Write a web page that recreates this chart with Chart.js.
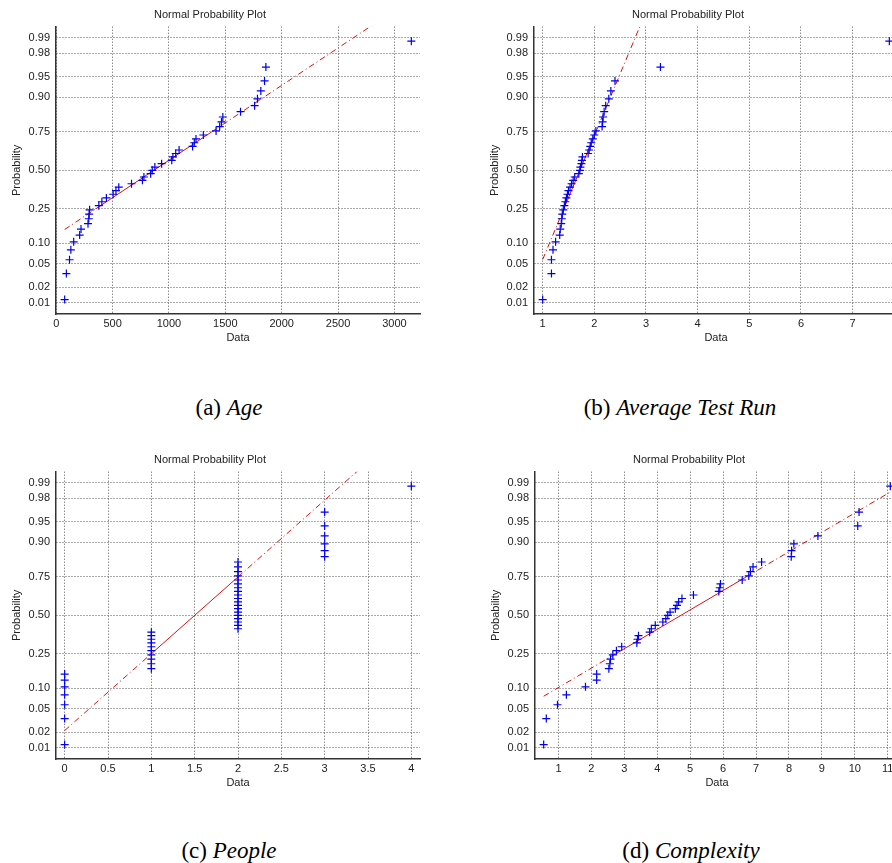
<!DOCTYPE html>
<html>
<head>
<meta charset="utf-8">
<title>Normal Probability Plots</title>
<script src="https://cdn.jsdelivr.net/npm/chart.js@4.4.0/dist/chart.umd.min.js"></script>
<style>
  html, body { margin: 0; padding: 0; background: #fff; overflow: hidden; }
  #page { position: relative; width: 892px; height: 863px; overflow: hidden; }
  .plot { position: absolute; width: 430px; height: 350px; }
  .caption {
    position: absolute; transform: translateX(-50%); white-space: nowrap;
    font-family: 'Liberation Serif', 'Times New Roman', serif; font-size: 23px; line-height: 1; color: #000;
  }
</style>
</head>
<body>
<div id="page">
  <div class="plot" style="left:0;top:0"><canvas id="chart-a"></canvas></div>
  <div class="plot" style="left:478px;top:0"><canvas id="chart-b"></canvas></div>
  <div class="plot" style="left:0;top:445px"><canvas id="chart-c"></canvas></div>
  <div class="plot" style="left:479px;top:445px"><canvas id="chart-d"></canvas></div>
  <div class="caption" style="left:229px;top:396px">(a) <i>Age</i></div>
  <div class="caption" style="left:680px;top:396px">(b) <i>Average Test Run</i></div>
  <div class="caption" style="left:229px;top:839px">(c) <i>People</i></div>
  <div class="caption" style="left:691px;top:839px">(d) <i>Complexity</i></div>
</div>
<script>
// Datos (valores ordenados de cada muestra)
const ageData = [75, 90, 118, 130, 155, 208, 220, 282, 289, 292, 296, 378, 405, 445, 505,
  530, 555, 668, 765, 778, 838, 852, 875, 935, 1025, 1035, 1060, 1090, 1210, 1225,
  1240, 1305, 1418, 1450, 1466, 1478, 1635, 1760, 1785, 1815, 1848, 1860, 3150];
const testRunData = [1.00, 1.17, 1.17, 1.20, 1.25, 1.33, 1.34, 1.36, 1.37, 1.38, 1.40, 1.42,
  1.44, 1.46, 1.48, 1.50, 1.53, 1.56, 1.59, 1.62, 1.70, 1.72, 1.73, 1.75, 1.76, 1.77,
  1.88, 1.90, 1.92, 1.94, 1.97, 2.00, 2.03, 2.15, 2.16, 2.17, 2.19, 2.22, 2.28, 2.32,
  2.40, 3.28, 7.71];
const peopleData = [0, 0, 0, 0, 0, 0, 0,
  1, 1, 1, 1, 1, 1, 1, 1, 1, 1,
  2, 2, 2, 2, 2, 2, 2, 2, 2, 2, 2, 2, 2, 2, 2, 2, 2, 2, 2,
  3, 3, 3, 3, 3, 3,
  4];
const complexityData = [0.55, 0.63, 0.97, 1.24, 1.82, 2.16, 2.16, 2.53, 2.56, 2.58, 2.65,
  2.76, 2.92, 3.38, 3.40, 3.43, 3.77, 3.82, 3.94, 4.17, 4.26, 4.32, 4.39, 4.55, 4.60,
  4.65, 4.75, 5.10, 5.87, 5.90, 5.92, 6.58, 6.78, 6.83, 6.91, 7.17, 8.07, 8.08, 8.15,
  8.88, 10.09, 10.13, 11.08];

// Cuartiles por donde pasa la recta de referencia (25% y 75%)
const ageQuartiles = [352, 1378];
const testRunQuartiles = [1.41, 2.03];
const peopleQuartiles = [1, 2];
const complexityQuartiles = [2.74, 6.70];

// Marcas de los ejes
const probTicks = [0.01, 0.02, 0.05, 0.10, 0.25, 0.50, 0.75, 0.90, 0.95, 0.98, 0.99];
const ageTicks = [0, 500, 1000, 1500, 2000, 2500, 3000];
const testRunTicks = [1, 2, 3, 4, 5, 6, 7];
const peopleTicks = [0, 0.5, 1, 1.5, 2, 2.5, 3, 3.5, 4];
const complexityTicks = [1, 2, 3, 4, 5, 6, 7, 8, 9, 10, 11];

const FONT = "'Liberation Sans', Arial, Helvetica, sans-serif";
const Q = 0.6744898; // norminv(0.75)

// Inversa de la normal estándar (Acklam)
function normInv(p) {
  const a = [-3.969683028665376e+01, 2.209460984245205e+02, -2.759285104469687e+02,
    1.383577518672690e+02, -3.066479806614716e+01, 2.506628277459239e+00];
  const b = [-5.447609879822406e+01, 1.615858368580409e+02, -1.556989798598866e+02,
    6.680131188771972e+01, -1.328068155288572e+01];
  const c = [-7.784894002430293e-03, -3.223964580411365e-01, -2.400758277161838e+00,
    -2.549671396719376e+00, 4.374664141464968e+00, 2.938163982698783e+00];
  const d = [7.784695709041462e-03, 3.224671290700398e-01, 2.445134137142996e+00,
    3.754408661907416e+00];
  const pl = 0.02425;
  if (p < pl) {
    const q = Math.sqrt(-2 * Math.log(p));
    return (((((c[0]*q+c[1])*q+c[2])*q+c[3])*q+c[4])*q+c[5]) / ((((d[0]*q+d[1])*q+d[2])*q+d[3])*q+1);
  }
  if (p > 1 - pl) return -normInv(1 - p);
  const q = p - 0.5, r = q * q;
  return (((((a[0]*r+a[1])*r+a[2])*r+a[3])*r+a[4])*r+a[5])*q / (((((b[0]*r+b[1])*r+b[2])*r+b[3])*r+b[4])*r+1);
}

function makeChart(id, values, quartiles, xTicks) {
  const n = values.length;
  const xMin = Math.min(...values), xMax = Math.max(...values);
  const pad = (xMax - xMin) * 0.025;
  const yLim = -normInv(0.25 / n);

  // Posiciones de graficado (i - 0.5) / n en escala normal
  const points = values.map((v, i) => ({x: v, y: normInv((i + 0.5) / n)}));

  // Recta por los cuartiles
  const mu = (quartiles[0] + quartiles[1]) / 2;
  const sigma = (quartiles[1] - quartiles[0]) / (2 * Q);
  const zAt = x => (x - mu) / sigma;
  const lineStyle = {type: 'line', borderColor: '#dd1010', borderWidth: 1, pointRadius: 0, fill: false, order: 2};

  new Chart(document.getElementById(id), {
    type: 'scatter',
    data: {
      datasets: [
        {data: points, pointStyle: 'cross', pointRadius: 4, borderColor: '#0000f0',
          backgroundColor: '#0000f0', pointBorderWidth: 1.2, order: 1},
        {...lineStyle, data: [{x: quartiles[0], y: -Q}, {x: quartiles[1], y: Q}]},
        {...lineStyle, borderDash: [6, 3, 1, 3], data: [{x: xMin, y: zAt(xMin)}, {x: quartiles[0], y: -Q}]},
        {...lineStyle, borderDash: [6, 3, 1, 3], data: [{x: quartiles[1], y: Q}, {x: xMax, y: zAt(xMax)}]}
      ]
    },
    options: {
      responsive: true,
      maintainAspectRatio: false,
      animation: false,
      events: [],
      layout: {padding: {right: 10}},
      plugins: {
        legend: {display: false},
        tooltip: {enabled: false},
        title: {
          display: true, text: 'Normal Probability Plot', color: '#222',
          font: {family: FONT, size: 11, weight: 'normal'},
          padding: {top: 8, bottom: 5.5}
        }
      },
      scales: {
        x: {
          type: 'linear', min: xMin - pad, max: xMax + pad,
          afterBuildTicks: s => { s.ticks = xTicks.map(v => ({value: v})); },
          afterFit: s => { s.height = 36; },
          ticks: {autoSkip: false, maxRotation: 0, padding: 3, color: '#222',
            font: {family: FONT, size: 11}, callback: v => String(v)},
          grid: {color: '#555', lineWidth: 1, drawTicks: false},
          border: {display: true, color: '#333', width: 1.5, dash: [1, 2]},
          title: {display: true, text: 'Data', color: '#222', font: {family: FONT, size: 11},
            padding: {top: 0, bottom: 5}}
        },
        y: {
          type: 'linear', min: -yLim, max: yLim,
          afterBuildTicks: s => { s.ticks = probTicks.map(p => ({value: normInv(p)})); },
          afterFit: s => { s.width = 56; },
          ticks: {autoSkip: false, padding: 6, color: '#222', font: {family: FONT, size: 11},
            callback: (v, i) => probTicks[i].toFixed(2)},
          grid: {color: '#555', lineWidth: 1, drawTicks: false},
          border: {display: true, color: '#333', width: 1.5, dash: [1, 2]},
          title: {display: true, text: 'Probability', color: '#222', font: {family: FONT, size: 11},
            padding: {top: 10, bottom: 0}}
        }
      }
    }
  });
}

makeChart('chart-a', ageData, ageQuartiles, ageTicks);
makeChart('chart-b', testRunData, testRunQuartiles, testRunTicks);
makeChart('chart-c', peopleData, peopleQuartiles, peopleTicks);
makeChart('chart-d', complexityData, complexityQuartiles, complexityTicks);
</script>
</body>
</html>
